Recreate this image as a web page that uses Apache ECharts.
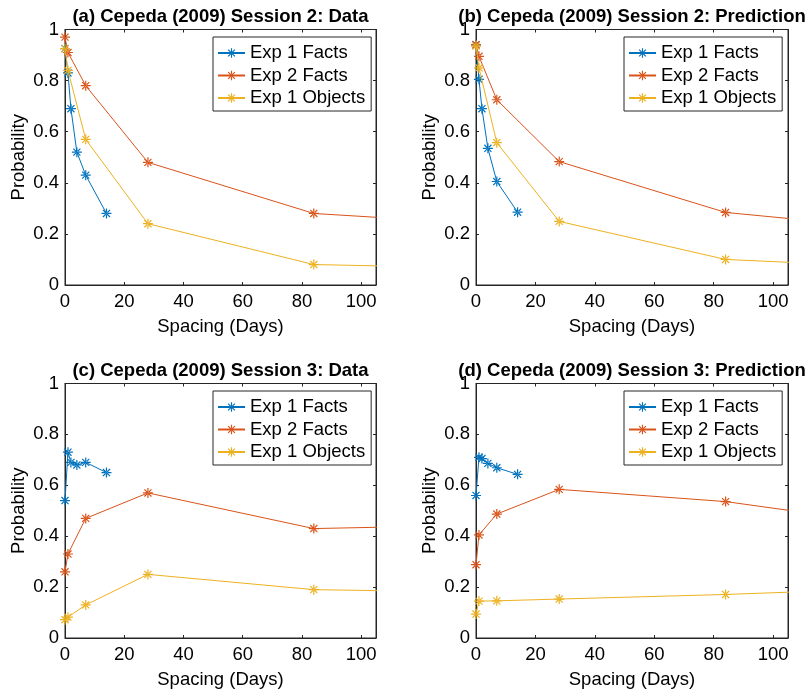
<!DOCTYPE html>
<html>
<head>
<meta charset="utf-8">
<script src="https://cdn.jsdelivr.net/npm/echarts@6/dist/echarts.min.js"></script>
<style>html,body{margin:0;padding:0;background:#fff;}#main{width:809px;height:692px;}</style>
</head>
<body>
<div id="main"></div>
<script>
// ---- data ----
const seriesNames = ['Exp 1 Facts', 'Exp 2 Facts', 'Exp 1 Objects'];
const xExp1Facts = [0, 1, 2, 4, 7, 14];
const xExp2Facts = [0, 1, 7, 28, 84, 168];
const xExp1Objects = [0, 1, 7, 28, 84, 168];

const s2DataF1 = [0.925, 0.83, 0.69, 0.52, 0.43, 0.28];
const s2DataF2 = [0.97, 0.91, 0.78, 0.48, 0.28, 0.22];
const s2DataObj = [0.925, 0.84, 0.57, 0.24, 0.08, 0.06];

const s2PredF1 = [0.94, 0.805, 0.69, 0.535, 0.405, 0.285];
const s2PredF2 = [0.94, 0.895, 0.725, 0.483, 0.284, 0.19];
const s2PredObj = [0.935, 0.85, 0.557, 0.249, 0.10, 0.056];

const s3DataF1 = [0.54, 0.73, 0.69, 0.68, 0.69, 0.65];
const s3DataF2 = [0.26, 0.33, 0.47, 0.57, 0.43, 0.45];
const s3DataObj = [0.072, 0.082, 0.13, 0.25, 0.19, 0.175];

const s3PredF1 = [0.56, 0.71, 0.705, 0.686, 0.669, 0.643];
const s3PredF2 = [0.288, 0.405, 0.487, 0.584, 0.536, 0.40];
const s3PredObj = [0.094, 0.145, 0.146, 0.153, 0.171, 0.207];

const panelTitles = [
  '(a) Cepeda (2009) Session 2: Data',
  '(b) Cepeda (2009) Session 2: Prediction',
  '(c) Cepeda (2009) Session 3: Data',
  '(d) Cepeda (2009) Session 3: Prediction'
];
const panelValues = [
  [s2DataF1, s2DataF2, s2DataObj],
  [s2PredF1, s2PredF2, s2PredObj],
  [s3DataF1, s3DataF2, s3DataObj],
  [s3PredF1, s3PredF2, s3PredObj]
];
const xValues = [xExp1Facts, xExp2Facts, xExp1Objects];
const xTicks = [0, 20, 40, 60, 80, 100];
const yTicks = [0, 0.2, 0.4, 0.6, 0.8, 1];
const xLabel = 'Spacing (Days)';
const yLabel = 'Probability';

// ---- styling / layout ----
const colors = ['#0072BD', '#D95319', '#EDB120'];
const FONT = "'Liberation Sans', Arial, Helvetica, sans-serif";
const FS = 18.5;
const AX = '#262626';
const grids = [
  {left: 65, top: 29.5, width: 311, height: 255.5},
  {left: 476, top: 29.5, width: 312, height: 255.5},
  {left: 65, top: 383.5, width: 311, height: 254.5},
  {left: 476, top: 383.5, width: 312, height: 254.5}
];
const legendPos = [
  {left: 213, top: 37},
  {left: 624, top: 37},
  {left: 213, top: 391},
  {left: 624, top: 391}
];
// asterisk marker (MATLAB '*') built from thin bars
const T = 1.2;
const D = T * 0.7071;
function diag(x1, y1, x2, y2, px, py) {
  return 'M' + (x1 + px) + ' ' + (y1 + py) + 'L' + (x2 + px) + ' ' + (y2 + py) +
    'L' + (x2 - px) + ' ' + (y2 - py) + 'L' + (x1 - px) + ' ' + (y1 - py) + 'Z';
}
const star = 'path://' +
  'M0 ' + (10 - T) + 'L20 ' + (10 - T) + 'L20 ' + (10 + T) + 'L0 ' + (10 + T) + 'Z' +
  'M' + (10 - T) + ' 0L' + (10 + T) + ' 0L' + (10 + T) + ' 20L' + (10 - T) + ' 20Z' +
  diag(2.93, 2.93, 17.07, 17.07, D, -D) +
  diag(2.93, 17.07, 17.07, 2.93, D, D);

const xAxes = [], yAxes = [], series = [], legends = [], graphics = [];
grids.forEach((g, i) => {
  const common = {
    gridIndex: i, type: 'value', min: 0,
    axisLine: {show: true, onZero: false, lineStyle: {color: AX, width: 1}},
    axisTick: {show: true, inside: true, length: 3, lineStyle: {color: AX, width: 1}},
    splitLine: {show: false}
  };
  xAxes.push(Object.assign({}, common, {
    position: 'bottom', max: 105, interval: 20,
    axisLabel: {show: true, margin: 7, fontSize: FS, fontFamily: FONT, color: '#000',
      formatter: v => (xTicks.indexOf(v) >= 0 ? String(v) : '')},
    name: xLabel, nameLocation: 'middle', nameGap: 32,
    nameTextStyle: {fontSize: FS, fontFamily: FONT, color: '#000'}
  }));
  xAxes.push(Object.assign({}, common, {
    position: 'top', max: 105, interval: 20, axisLabel: {show: false}
  }));
  yAxes.push(Object.assign({}, common, {
    position: 'left', max: 1, interval: 0.2,
    axisLabel: {show: true, margin: 6, fontSize: FS, fontFamily: FONT, color: '#000',
      formatter: v => { const r = Math.round(v * 10) / 10; return String(r); }},
    name: yLabel, nameLocation: 'middle', nameGap: 37,
    nameTextStyle: {fontSize: FS, fontFamily: FONT, color: '#000'}
  }));
  yAxes.push(Object.assign({}, common, {
    position: 'right', max: 1, interval: 0.2, axisLabel: {show: false}
  }));
  panelValues[i].forEach((vals, k) => {
    series.push({
      name: seriesNames[k], type: 'line',
      xAxisIndex: 2 * i, yAxisIndex: 2 * i,
      data: vals.map((v, j) => [xValues[k][j], v]),
      symbol: star, symbolSize: 10,
      lineStyle: {color: colors[k], width: 1},
      itemStyle: {color: colors[k]},
      emphasis: {disabled: true},
      clip: true, animation: false, z: 3 + k
    });
  });
  // empty series so the box axes (top / right) are bound to a series
  series.push({
    type: 'line', xAxisIndex: 2 * i + 1, yAxisIndex: 2 * i + 1,
    data: [], silent: true, animation: false
  });
  legends.push({
    orient: 'vertical', left: legendPos[i].left, top: legendPos[i].top,
    data: seriesNames, itemWidth: 27, itemHeight: 12, itemGap: 2.5,
    padding: [6, 6, 3, 4], borderColor: AX, borderWidth: 1, backgroundColor: '#fff',
    textStyle: {fontSize: FS, fontFamily: FONT, color: '#000', lineHeight: 20},
    selectedMode: false, z: 10
  });
  graphics.push({
    type: 'text',
    x: g.left + g.width / 2, y: g.top - 12.5,
    style: {text: panelTitles[i], fill: '#000', font: 'bold ' + FS + 'px ' + FONT,
      textAlign: 'center', textVerticalAlign: 'middle'}
  });
});

const chart = echarts.init(document.getElementById('main'), null, {renderer: 'canvas'});
chart.setOption({
  animation: false,
  backgroundColor: '#fff',
  grid: grids.map(g => Object.assign({containLabel: false, show: true,
    borderColor: AX, borderWidth: 1, backgroundColor: 'transparent'}, g)),
  xAxis: xAxes, yAxis: yAxes,
  legend: legends,
  series: series,
  graphic: graphics
});
</script>
</body>
</html>
